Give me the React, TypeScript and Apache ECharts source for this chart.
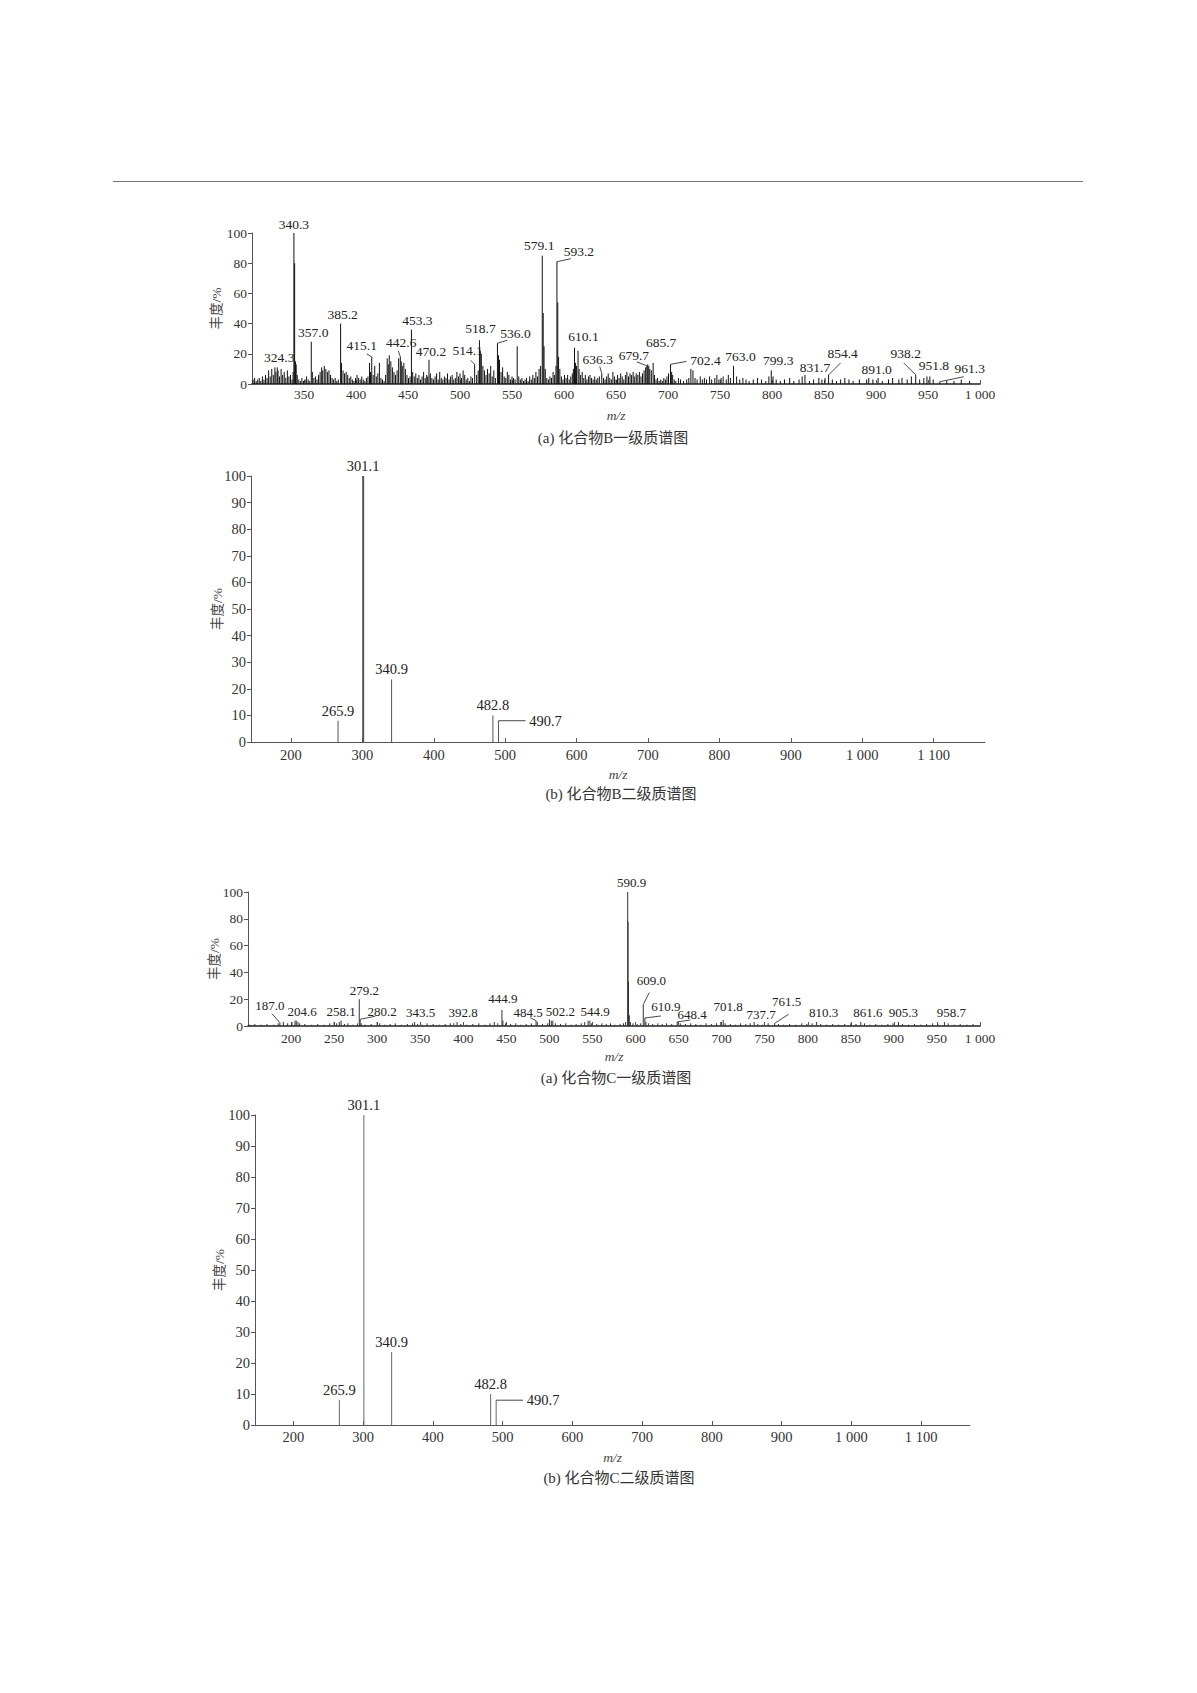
import React, { useEffect, useRef } from "react";
import * as echarts from "echarts";

// ---------- DATA ----------
// Compound B, MS1: labelled peaks [m/z, relative abundance %]
const bMS1Labeled: [number, number][] = [
  [324.3, 11], [340.3, 100], [357.0, 28], [385.2, 40], [415.1, 18], [442.6, 18],
  [453.3, 36], [470.2, 16], [514.1, 13], [518.7, 29], [536.0, 27], [579.1, 85],
  [593.2, 81], [610.1, 24], [636.3, 7], [679.7, 12], [685.7, 14], [702.4, 13],
  [763.0, 12], [799.3, 9], [831.7, 6], [854.4, 6], [891.0, 3], [938.2, 6],
  [951.8, 5], [961.3, 1.5],
];
// Compound B, MS1: unlabelled peaks
const bMS1Minor: [number, number][] = [
  [301, 3], [302.5, 4], [304, 2], [305.5, 3], [307, 4], [308.5, 2], [310, 5], [311.5, 3],
  [313, 6], [314.5, 4], [316, 9], [317.5, 5], [319, 10], [320.5, 6], [322, 11], [323, 8],
  [325, 9], [326.5, 5], [328, 10], [329.5, 6], [331, 8], [332.5, 4], [334, 9], [335.5, 5],
  [337, 6], [338.5, 3], [339.5, 8], [341.0, 80], [341.8, 15], [342.5, 13], [343.5, 6],
  [345, 3], [346.5, 2], [348, 4], [349.5, 2], [351, 3], [352.5, 5], [354, 3], [355.5, 2],
  [358, 8], [359.5, 4], [361, 5], [362.5, 3], [364, 6], [365.5, 8], [367, 11], [368, 9],
  [369.5, 12], [371, 10], [372.5, 8], [374, 9], [375.5, 6], [377, 4], [378.5, 3], [380, 4],
  [381.5, 2], [383, 3], [386, 14], [387.5, 9], [389, 7], [390.5, 8], [392, 6], [393.5, 4],
  [395, 5], [396.5, 3], [398, 2], [399.5, 4], [401, 6], [402.5, 4], [404, 3], [405.5, 5],
  [407, 3], [408.5, 2], [410, 4], [411.5, 5], [413, 14], [414, 8], [416.5, 6], [418, 12],
  [419.5, 5], [421, 7], [422.5, 14], [424, 4], [425.5, 3], [427, 2], [428.5, 6], [430, 17],
  [431, 13], [432, 19], [433.5, 15], [435, 11], [436.5, 8], [438, 6], [439.5, 9], [441, 17],
  [443.5, 15], [444.5, 12], [446, 14], [447.5, 10], [449, 6], [450.5, 4], [452, 5],
  [454.5, 8], [456, 5], [457.5, 7], [459, 4], [460.5, 6], [462, 3], [463.5, 5], [465, 8],
  [466.5, 4], [468, 6], [469, 5], [471.5, 7], [473, 4], [474.5, 3], [476, 5], [477.5, 7],
  [479, 3], [480.5, 8], [482, 4], [483.5, 3], [485, 5], [486.5, 4], [488, 7], [489.5, 3],
  [491, 5], [492.5, 6], [494, 3], [495.5, 4], [497, 8], [498.5, 5], [500, 7], [501.5, 4],
  [503, 9], [504.5, 6], [506, 3], [507.5, 4], [509, 2], [510.5, 5], [512, 4], [516, 6],
  [517.5, 9], [519.5, 22], [520.5, 20], [522, 12], [523.5, 9], [525, 6], [526.5, 10],
  [528, 7], [529.5, 12], [531, 5], [532.5, 9], [534, 4], [537, 19], [538, 16], [539.5, 8],
  [541, 11], [542.5, 5], [544, 4], [545.5, 8], [547, 6], [548.5, 3], [550, 5], [551.5, 4],
  [553, 3], [555, 25], [556.5, 5], [558, 3], [559.5, 4], [561, 2], [562.5, 3], [564, 4],
  [565.5, 2], [567, 5], [568.5, 3], [570, 6], [571.5, 4], [573, 8], [574.5, 5], [576, 10],
  [577.5, 12], [580, 47], [580.8, 25], [582, 10], [583.5, 4], [585, 3], [586.5, 5], [588, 4],
  [589.5, 8], [591, 6], [592.3, 12], [594, 54], [594.8, 18], [596, 10], [597.5, 5], [599, 3],
  [600.5, 6], [602, 4], [603.5, 6], [605, 3], [606.5, 5], [608, 7], [609, 10], [611, 14],
  [612, 12], [613.5, 22], [614.5, 10], [616, 6], [617.5, 8], [619, 4], [620.5, 6], [622, 3],
  [623.5, 5], [625, 6], [626.5, 4], [628, 3], [629.5, 5], [631, 3], [632.5, 4], [634, 5],
  [638, 4], [639.5, 3], [641, 5], [642.5, 7], [644, 4], [645.5, 3], [647, 8], [648.5, 5],
  [650, 3], [651.5, 6], [653, 4], [654.5, 7], [656, 5], [657.5, 3], [659, 6], [660.5, 8],
  [662, 5], [663.5, 7], [665, 6], [666.5, 8], [668, 5], [669.5, 7], [671, 6], [672.5, 8],
  [674, 5], [675.5, 7], [677, 9], [678.5, 11], [680.5, 13], [681.5, 12], [682.5, 10],
  [684, 9], [687, 6], [688.5, 3], [690, 4], [691.5, 2], [693, 3], [694.5, 2], [696, 4],
  [697.5, 3], [699, 5], [700.5, 7], [703.5, 8], [704.5, 6], [706, 3], [707.5, 2], [710, 4],
  [712, 3], [715, 2], [718, 3], [720, 4], [722, 10], [724, 9], [726, 4], [728, 3], [731, 5],
  [733, 3], [735, 4], [737, 3], [740, 5], [742, 3], [745, 4], [747, 6], [749, 3], [751, 4],
  [753, 5], [756, 3], [758, 6], [760, 4], [766, 5], [769, 3], [772, 4], [775, 3], [778, 2],
  [782, 3], [786, 4], [790, 3], [794, 2], [797, 5], [801, 5], [804, 3], [808, 2], [812, 3],
  [817, 4], [821, 2], [826, 3], [829, 5], [836, 2], [840, 3], [845, 4], [848, 3], [851, 4],
  [858, 3], [862, 2], [866, 3], [870, 4], [874, 3], [878, 2], [884, 3], [893, 4], [897, 3],
  [902, 4], [906, 2], [912, 3], [916, 4], [922, 3], [925, 4], [930, 3], [934, 5], [942, 3],
  [946, 4], [949, 5], [955, 3], [968, 2], [975, 2], [982, 3], [990, 2],
];

// Compound B / C, MS2 (same fragments)
const bMS2Peaks: [number, number][] = [
  [265.9, 8], [301.1, 100], [340.9, 23.5], [482.8, 10], [490.7, 8],
];
const cMS2Peaks: [number, number][] = [
  [265.9, 8], [301.1, 100], [340.9, 23.5], [482.8, 10], [490.7, 8],
];

// Compound C, MS1
const cMS1Labeled: [number, number][] = [
  [187.0, 2.5], [204.6, 4], [258.1, 4], [279.2, 20], [280.2, 5], [343.5, 3], [392.8, 3],
  [444.9, 12], [484.5, 4], [502.2, 4], [544.9, 4], [590.9, 100], [609.0, 16], [610.9, 6],
  [648.4, 3], [701.8, 4.5], [737.7, 3], [761.5, 2], [810.3, 3], [861.6, 3], [905.3, 3],
  [958.7, 3],
];
const cMS1Minor: [number, number][] = [
  [152, 1], [158, 1.5], [165, 1], [172, 1.5], [180, 1], [185, 2], [191, 3], [196, 2],
  [201, 3], [206, 4], [208, 3], [210, 2], [216, 1.5], [224, 1], [231, 1.5], [238, 1],
  [245, 2], [250, 3], [253, 2], [256, 3], [262, 1.5], [266, 2], [272, 1], [277, 2],
  [281.5, 2], [286, 1], [293, 1.5], [300, 3], [303, 2], [309, 1], [315, 1.5], [321, 2],
  [328, 1], [335, 1.5], [341, 2], [347, 1.5], [352, 1], [358, 2], [365, 1.5], [372, 1],
  [379, 1.5], [385, 2], [389, 2], [397, 1.5], [404, 1], [411, 1.5], [418, 2], [425, 1],
  [431, 2], [436, 3], [440, 2], [446, 4], [449, 2], [455, 1.5], [461, 2], [467, 1],
  [473, 1.5], [479, 2], [486, 3], [492, 1.5], [498, 2], [500, 5], [504, 4], [507, 2],
  [513, 1.5], [519, 2], [525, 1], [531, 1.5], [537, 2], [541, 3], [547, 4], [549, 2],
  [555, 1.5], [561, 2], [566, 1.5], [571, 2], [576, 1], [582, 1.5], [586, 2], [588.5, 3],
  [591.3, 78], [591.8, 33], [592.8, 8], [594, 3], [597, 2], [602, 1.5], [606, 2],
  [612, 3], [615, 2], [620, 1.5], [626, 2], [631, 1.5], [636, 2], [642, 1.5], [652, 2],
  [658, 1.5], [664, 2], [670, 1.5], [676, 1], [682, 2], [688, 1.5], [694, 2], [699, 3],
  [704, 2], [710, 1.5], [716, 1], [722, 2], [728, 1.5], [733, 2], [742, 1.5], [748, 1],
  [754, 2], [766, 1.5], [772, 1], [779, 1.5], [786, 1], [793, 2], [799, 1.5], [805, 2],
  [815, 1.5], [822, 1], [829, 1.5], [836, 1], [843, 1.5], [850, 2], [856, 1.5], [866, 2],
  [872, 1], [879, 1.5], [886, 1], [893, 1.5], [899, 2], [910, 1.5], [917, 1], [924, 1.5],
  [931, 1], [938, 1.5], [945, 2], [951, 1.5], [963, 2], [970, 1], [977, 1.5], [985, 1],
  [992, 1.5],
];

// Tick values
const ms1BTicks = [350, 400, 450, 500, 550, 600, 650, 700, 750, 800, 850, 900, 950, 1000];
const ms1CTicks = [200, 250, 300, 350, 400, 450, 500, 550, 600, 650, 700, 750, 800, 850, 900, 950, 1000];
const ms2Ticks = [200, 300, 400, 500, 600, 700, 800, 900, 1000, 1100];

// Texts
const captions = ["(a) 化合物B一级质谱图", "(b) 化合物B二级质谱图", "(a) 化合物C一级质谱图", "(b) 化合物C二级质谱图"];
const yName = "丰度/%";
const xName = "m/z";

// ---------- LAYOUT (pixel offsets of peak labels: [dx, dy, leaderDx, leaderDy]) ----------
const layoutB1: Record<string, number[]> = {
  "324.3": [2, -10], "357.0": [2, -9], "385.2": [2, -9], "415.1": [-10, -11, -5, -3],
  "442.6": [1, -14, -2, -6], "453.3": [6, -9], "470.2": [2, -8], "514.1": [-7, -14, -4, -4],
  "518.7": [1, -12], "536.0": [18, -10, 10, -3], "579.1": [-3, -10], "593.2": [22, -10, 14, -3],
  "610.1": [9, -11], "636.3": [-4, -14, -2, -7], "679.7": [-13, -10, -10, -4], "685.7": [8, -20],
  "702.4": [35, -4, 16, -3], "763.0": [7, -9], "799.3": [7, -10], "831.7": [10, -7],
  "854.4": [14, -21, 12, -12], "891.0": [10, -10], "938.2": [-10, -21, -12, -12],
  "951.8": [4, -11], "961.3": [30, -13, 24, -5],
};
const layoutMS2: Record<string, number[]> = { "490.7": [47, 0, 27, 0] };
const layoutC1: Record<string, number[]> = {
  "187.0": [-10, -17, -8, -9], "204.6": [7, -9], "258.1": [0, -9], "279.2": [5, -9],
  "280.2": [22, -8, 15, -3], "343.5": [6, -9], "392.8": [6, -9], "444.9": [1, -11],
  "484.5": [-8, -8, -6, -3], "502.2": [9, -9], "544.9": [7, -9], "590.9": [4, -10],
  "609.0": [8, -24, 6, -12], "610.9": [21, -11, 16, -2], "648.4": [15, -7, 13, -2],
  "701.8": [5, -13], "737.7": [7, -7], "761.5": [12, -22, 14, -9], "810.3": [7, -9],
  "861.6": [7, -9], "905.3": [5, -9], "958.7": [7, -9],
};

const SERIF = '"Liberation Serif", "Times New Roman", serif';
const CJK = '"Liberation Serif", "Noto Sans CJK SC", serif';

function fmtTick(v: number) {
  if (v >= 1000) return "1 " + String(v).slice(1);
  return String(v);
}

function stickSeries(idx: number, data: [number, number][], color: string, widthFn: (h: number) => number) {
  return {
    type: "custom",
    xAxisIndex: idx,
    yAxisIndex: idx,
    data,
    encode: { x: 0, y: 1 },
    silent: true,
    renderItem: (_p: any, api: any) => {
      const x = api.value(0);
      const y = api.value(1);
      const a = api.coord([x, 0]);
      const b = api.coord([x, y]);
      return {
        type: "line",
        shape: { x1: a[0], y1: a[1], x2: b[0], y2: b[1] },
        style: { stroke: color, lineWidth: widthFn(y) },
      };
    },
  };
}

function labelSeries(idx: number, data: [number, number][], layout: Record<string, number[]>, fontSize: number, defDy: number) {
  return {
    type: "custom",
    xAxisIndex: idx,
    yAxisIndex: idx,
    data,
    encode: { x: 0, y: 1 },
    silent: true,
    z: 5,
    renderItem: (params: any, api: any) => {
      const x = api.value(0);
      const y = api.value(1);
      const p = api.coord([x, y]);
      const text = data[params.dataIndex][0].toFixed(1);
      const lay = layout[text] || [0, defDy];
      const children: any[] = [
        {
          type: "text",
          x: p[0] + lay[0],
          y: p[1] + lay[1],
          style: {
            text,
            fill: "#222",
            font: `${fontSize}px ${SERIF}`,
            align: "center",
            verticalAlign: "middle",
          },
        },
      ];
      if (lay.length >= 4) {
        children.push({
          type: "line",
          shape: { x1: p[0], y1: p[1], x2: p[0] + lay[2], y2: p[1] + lay[3] },
          style: { stroke: "#333", lineWidth: 0.9 },
        });
      }
      return { type: "group", children };
    },
  };
}

const axisColor = "#555";

function makeY(idx: number, interval: number, fontSize: number, nameGap: number) {
  return {
    gridIndex: idx,
    type: "value",
    min: 0,
    max: 100,
    interval,
    axisLine: { show: true, lineStyle: { color: axisColor, width: 1 } },
    axisTick: { show: true, inside: false, length: 4, lineStyle: { color: axisColor } },
    axisLabel: { margin: 5, fontFamily: SERIF, fontSize, color: "#333" },
    splitLine: { show: false },
    name: yName,
    nameLocation: "middle",
    nameGap,
    nameRotate: 90,
    nameMoveOverlap: false,
    nameTextStyle: { fontFamily: CJK, fontSize: 13.5, color: "#444" },
  };
}

function makeX(idx: number, min: number, max: number, ticks: number[], fontSize: number, margin: number, nameGap: number, lineW: number) {
  return {
    gridIndex: idx,
    type: "value",
    min,
    max,
    axisLine: { show: true, onZero: false, lineStyle: { color: lineW > 1 ? "#222" : axisColor, width: lineW } },
    axisTick: { show: true, inside: true, length: 4, customValues: ticks, lineStyle: { color: axisColor } },
    axisLabel: {
      margin,
      fontFamily: SERIF,
      fontSize,
      color: "#333",
      customValues: ticks,
      formatter: (v: number) => fmtTick(v),
    },
    splitLine: { show: false },
    name: xName,
    nameLocation: "middle",
    nameGap,
    nameMoveOverlap: false,
    nameTextStyle: { fontFamily: SERIF, fontSize: 13.5, fontStyle: "italic", color: "#444" },
  };
}

function caption(text: string, x: number, y: number) {
  return {
    type: "text",
    x,
    y,
    style: {
      text,
      fill: "#333",
      font: `15px ${CJK}`,
      align: "center",
      verticalAlign: "middle",
      textAlign: "center",
      textVerticalAlign: "middle",
    },
  };
}

export default function App() {
  const ref = useRef<HTMLDivElement>(null);
  useEffect(() => {
    if (!ref.current) return;
    const chart = echarts.init(ref.current, null, { renderer: "svg" });
    const one = () => 1;
    const option: any = {
      animation: false,
      backgroundColor: "#fff",
      grid: [
        { left: 252, top: 233, width: 728, height: 151, containLabel: false, outerBoundsMode: "none" },
        { left: 251, top: 476, width: 734, height: 266, containLabel: false, outerBoundsMode: "none" },
        { left: 248, top: 892, width: 732, height: 134, containLabel: false, outerBoundsMode: "none" },
        { left: 255, top: 1115, width: 715, height: 310, containLabel: false, outerBoundsMode: "none" },
      ],
      xAxis: [
        makeX(0, 300, 1000, ms1BTicks, 13.5, 3, 24, 1.6),
        makeX(1, 144, 1172, ms2Ticks, 14.5, 5, 25, 1),
        makeX(2, 150, 1000, ms1CTicks, 13.5, 5, 23, 1.6),
        makeX(3, 145, 1170, ms2Ticks, 14.5, 4, 25, 1),
      ],
      yAxis: [
        makeY(0, 20, 13.5, 29),
        makeY(1, 10, 14.5, 27),
        makeY(2, 20, 13.5, 27),
        makeY(3, 10, 14.5, 29),
      ],
      series: [
        stickSeries(0, bMS1Minor, "#111", one),
        stickSeries(0, bMS1Labeled, "#111", one),
        labelSeries(0, bMS1Labeled, layoutB1, 13.5, -9),
        stickSeries(1, bMS2Peaks, "#555", (h) => (h >= 99 ? 2 : 1)),
        labelSeries(1, bMS2Peaks, layoutMS2, 14.5, -10),
        stickSeries(2, cMS1Minor, "#333", one),
        stickSeries(2, cMS1Labeled, "#333", one),
        labelSeries(2, cMS1Labeled, layoutC1, 13, -9),
        stickSeries(3, cMS2Peaks, "#666", one),
        labelSeries(3, cMS2Peaks, layoutMS2, 14.5, -10),
      ],
      graphic: [
        { type: "line", shape: { x1: 113, y1: 181.5, x2: 1083, y2: 181.5 }, style: { stroke: "#777", lineWidth: 1.2 } },
        caption(captions[0], 613, 438),
        caption(captions[1], 621, 794),
        caption(captions[2], 616, 1078),
        caption(captions[3], 619, 1478),
      ],
    };
    chart.setOption(option);
    return () => chart.dispose();
  }, []);
  return (
    <div
      ref={ref}
      style={{ position: "absolute", left: 0, top: 0, width: 1197, height: 1693, background: "#fff" }}
    />
  );
}
